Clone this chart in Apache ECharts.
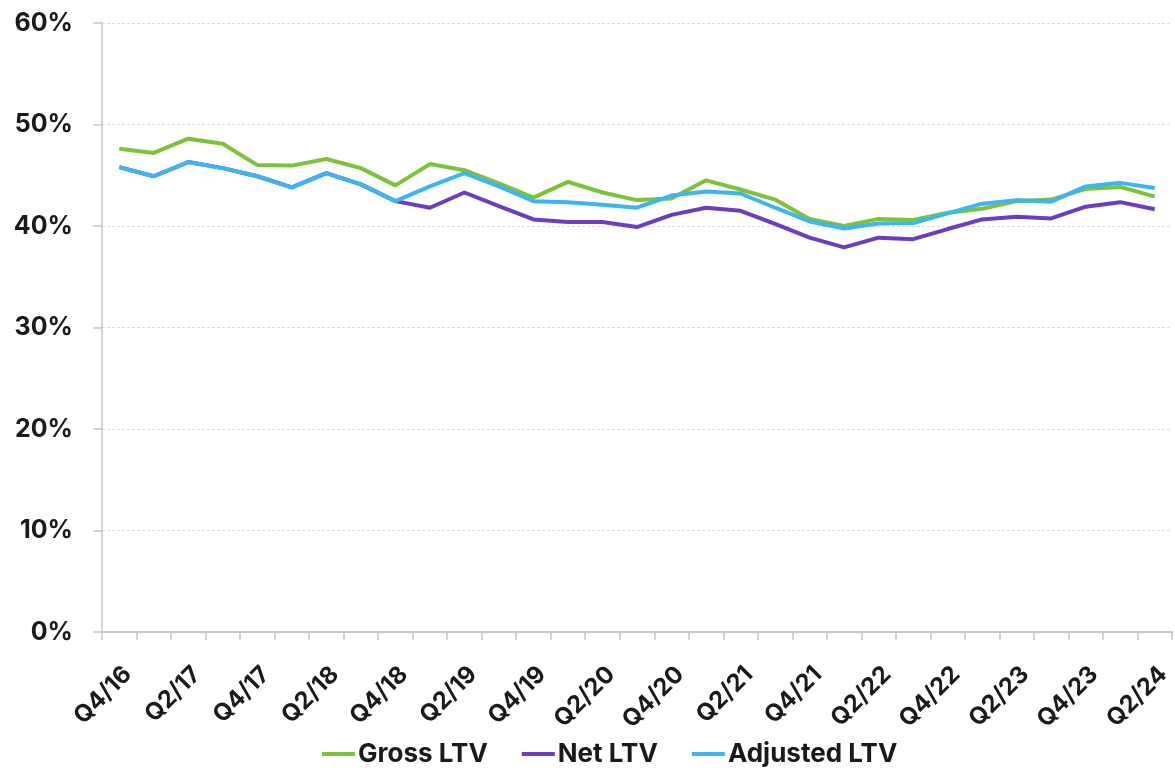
<!DOCTYPE html>
<html>
<head>
<meta charset="utf-8">
<script src="https://cdn.jsdelivr.net/npm/echarts@6/dist/echarts.min.js"></script>
<style>
  html, body { margin: 0; padding: 0; background: #fff; }
  #chart { width: 1175px; height: 773px; }
</style>
</head>
<body>
<div id="chart"></div>
<script>
// Quarterly periods, Q4/16 through Q2/24
const quarters = [
  'Q4/16','Q1/17','Q2/17','Q3/17','Q4/17','Q1/18','Q2/18','Q3/18','Q4/18','Q1/19',
  'Q2/19','Q3/19','Q4/19','Q1/20','Q2/20','Q3/20','Q4/20','Q1/21','Q2/21','Q3/21',
  'Q4/21','Q1/22','Q2/22','Q3/22','Q4/22','Q1/23','Q2/23','Q3/23','Q4/23','Q1/24','Q2/24'
];

// Loan-to-value ratios, in percent
const grossLTV = [
  47.6, 47.2, 48.6, 48.1, 46.0, 45.95, 46.6, 45.7, 44.0, 46.1,
  45.5, 44.2, 42.8, 44.35, 43.3, 42.55, 42.7, 44.5, 43.6, 42.6,
  40.7, 40.0, 40.7, 40.6, 41.3, 41.7, 42.45, 42.6, 43.65, 43.85, 42.9
];
const netLTV = [
  45.8, 44.9, 46.3, 45.7, 44.9, 43.8, 45.2, 44.1, 42.45, 41.8,
  43.3, 41.95, 40.65, 40.4, 40.4, 39.9, 41.1, 41.8, 41.5, 40.2,
  38.85, 37.9, 38.85, 38.7, 39.7, 40.65, 40.9, 40.75, 41.9, 42.35, 41.65
];
const adjustedLTV = [
  45.8, 44.9, 46.3, 45.7, 44.9, 43.8, 45.2, 44.1, 42.45, 43.9,
  45.2, 43.9, 42.45, 42.35, 42.1, 41.8, 43.0, 43.4, 43.2, 41.8,
  40.45, 39.75, 40.25, 40.3, 41.25, 42.2, 42.55, 42.4, 43.9, 44.25, 43.75
];

const yTicks = [0, 10, 20, 30, 40, 50, 60];

const FONT = 'Inter, "Noto Sans", sans-serif';
const colors = { gross: '#7cc33a', net: '#6b3ec1', adjusted: '#3db5f0' };

const chart = echarts.init(document.getElementById('chart'));

const lineSeries = (name, data, color) => ({
  name,
  type: 'line',
  data,
  color,
  showSymbol: false,
  symbol: 'none',
  lineStyle: { width: 4, color },
  emphasis: { disabled: true }
});

chart.setOption({
  animation: false,
  grid: { left: 102, right: 3, top: 23, bottom: 141, containLabel: false },
  legend: {
    top: 741,
    left: 322,
    padding: 0,
    itemWidth: 33,
    itemHeight: 4,
    itemGap: 34,
    icon: 'rect',
    textStyle: { fontFamily: FONT, fontSize: 26, fontWeight: 'bold', color: '#1a1a1a', padding: [0, 0, 0, -2] },
    data: ['Gross LTV', 'Net LTV', 'Adjusted LTV']
  },
  xAxis: {
    type: 'category',
    data: quarters,
    boundaryGap: true,
    axisLine: { lineStyle: { color: '#c8c8c8', width: 2 } },
    axisTick: { show: true, length: 8, interval: 0, lineStyle: { color: '#c8c8c8', width: 1.5 } },
    axisLabel: {
      interval: 1,
      rotate: 45,
      margin: 30,
      verticalAlign: 'top',
      fontFamily: FONT,
      fontSize: 24,
      fontWeight: 'bold',
      color: '#1a1a1a'
    }
  },
  yAxis: {
    type: 'value',
    min: yTicks[0],
    max: yTicks[yTicks.length - 1],
    interval: 10,
    axisLine: { show: true, lineStyle: { color: '#c8c8c8', width: 1.5 } },
    axisTick: { show: true, length: 9, lineStyle: { color: '#c8c8c8', width: 1.5 } },
    splitLine: { show: true, lineStyle: { color: '#dcdcdc', type: [3, 2], width: 1 } },
    axisLabel: {
      margin: 29,
      fontFamily: FONT,
      fontSize: 25,
      fontWeight: 'bold',
      color: '#1a1a1a',
      formatter: v => v + '%'
    }
  },
  series: [
    lineSeries('Gross LTV', grossLTV, colors.gross),
    lineSeries('Net LTV', netLTV, colors.net),
    lineSeries('Adjusted LTV', adjustedLTV, colors.adjusted)
  ]
});
</script>
</body>
</html>
